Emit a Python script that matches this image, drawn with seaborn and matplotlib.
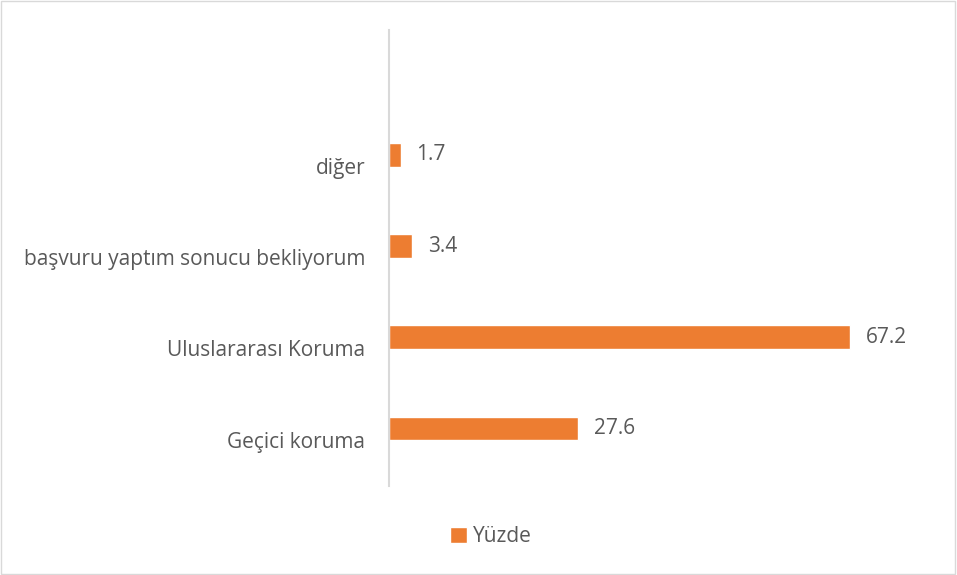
import matplotlib
matplotlib.use("Agg")
import matplotlib.pyplot as plt
import seaborn as sns
import pandas as pd
from matplotlib.patches import Patch, Rectangle
from matplotlib.transforms import ScaledTranslation

# veriler (yukaridan asagiya)
categories = ["diğer", "başvuru yaptım sonucu bekliyorum", "Uluslararası Koruma", "Geçici koruma"]
values = [1.7, 3.4, 67.2, 27.6]
series_name = "Yüzde"

df = pd.DataFrame({"kategori": categories, "deger": values})

bar_color = "#ED7D31"
text_color = "#595959"

sns.set_theme(style="white")
plt.rcParams["font.family"] = ["Open Sans", "DejaVu Sans"]

fig = plt.figure(figsize=(9.57, 5.75), dpi=100)
ax = fig.add_axes([389 / 957, 1 - 486 / 575, (938 - 389) / 957, (486 - 30) / 575])

sns.barplot(data=df, x="deger", y="kategori", order=categories, color=bar_color,
            saturation=1, width=0.26, ax=ax)

ax.set_xlim(0, 80)
ax.set_ylim(3.63, -1.37)
ax.set_xlabel("")
ax.set_ylabel("")
ax.set_xticks([])
sns.despine(ax=ax, top=True, right=True, bottom=True, left=False)
ax.spines["left"].set_color("#d9d9d9")
ax.spines["left"].set_linewidth(1.5)
ax.tick_params(axis="y", length=0, pad=17, labelsize=15, labelcolor=text_color)

# etiketleri biraz asagi kaydir (Excel gorunumu)
shift = ScaledTranslation(0, -0.11, fig.dpi_scale_trans)
for lbl in ax.get_yticklabels():
    lbl.set_transform(lbl.get_transform() + shift)

texts = ax.bar_label(ax.containers[0], labels=[f"{v:.1f}" for v in values], padding=11,
                     fontsize=15, color=text_color)
for t in texts:
    t.set_transform(t.get_transform() + ScaledTranslation(0, -0.02, fig.dpi_scale_trans))

fig.legend(handles=[Patch(facecolor=bar_color, label=series_name)], loc="center",
           bbox_to_anchor=(491 / 957, 1 - 537 / 575), frameon=False, fontsize=15,
           labelcolor=text_color, handlelength=0.8, handleheight=0.8, handletextpad=0.3)

# dis cerceve
fig.patches.append(Rectangle((0.001, 0.001), 0.997, 0.997, transform=fig.transFigure,
                             fill=False, edgecolor="#d9d9d9", linewidth=1))

fig.savefig("out.png", dpi=100)
